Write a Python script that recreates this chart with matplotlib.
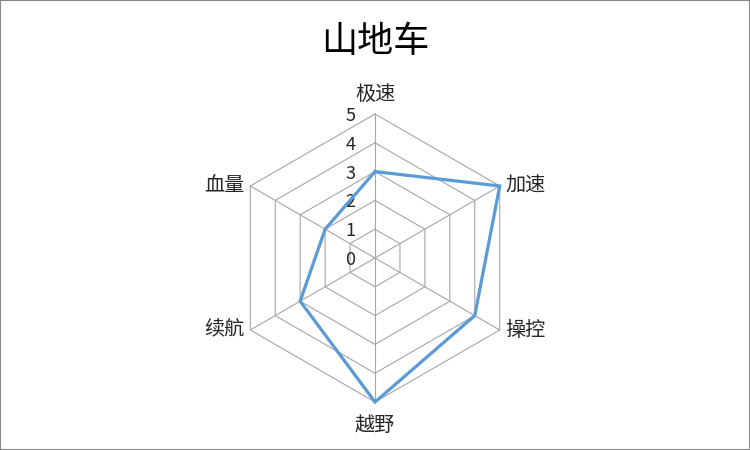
import numpy as np
import matplotlib.pyplot as plt
from matplotlib.patches import Rectangle

plt.rcParams['font.family'] = ['Noto Sans CJK SC', 'DejaVu Sans']

title = "山地车"
categories = ["极速", "加速", "操控", "越野", "续航", "血量"]
values = [3, 5, 4, 5, 3, 2]
ticks = [0, 1, 2, 3, 4, 5]

n = len(categories)
angles = np.pi / 2 - np.arange(n) * 2 * np.pi / n

fig = plt.figure(figsize=(7.5, 4.5), dpi=100)
ax = fig.add_axes([0, 0, 1, 1])
scale = 144 / 5  # pixels per unit
ax.set_xlim(-375 / scale, 375 / scale)
ax.set_ylim(-192 / scale, 258 / scale)
ax.axis("off")

grid_c = "#A6A6A6"
txt_c = "#262626"
rmax = ticks[-1]
for t in ticks[1:]:
    xs = t * np.cos(np.append(angles, angles[0]))
    ys = t * np.sin(np.append(angles, angles[0]))
    ax.plot(xs, ys, color=grid_c, lw=0.8, zorder=1)
for a in angles:
    ax.plot([0, rmax * np.cos(a)], [0, rmax * np.sin(a)], color=grid_c, lw=0.8, zorder=1)

for t in ticks:
    ax.text(-0.68, t - 0.07, str(t), ha="right", va="center", fontsize=13, color=txt_c)

vx = np.array(values) * np.cos(angles)
vy = np.array(values) * np.sin(angles)
ax.plot(np.append(vx, vx[0]), np.append(vy, vy[0]), color="#5B9BD5", lw=2.3,
        zorder=3, solid_joinstyle="miter")

for lab, a in zip(categories, angles):
    c = np.cos(a)
    if abs(c) < 1e-6:
        x = 0
        y = rmax + 0.68 if np.sin(a) > 0 else -(rmax + 0.8)
        ha = "center"
    else:
        x = rmax * c + (0.2 if c > 0 else -0.2)
        y = rmax * np.sin(a)
        ha = "left" if c > 0 else "right"
    ax.text(x, y, lab, ha=ha, va="center", fontsize=14.5, color=txt_c)

fig.text(0.5, 1 - 42 / 450, title, ha="center", va="center", fontsize=26, color="black")
fig.patches.append(Rectangle((0, 0), 1, 1, transform=fig.transFigure, fill=False,
                             edgecolor="#868686", lw=1.5))

fig.savefig("out.png", dpi=100)
